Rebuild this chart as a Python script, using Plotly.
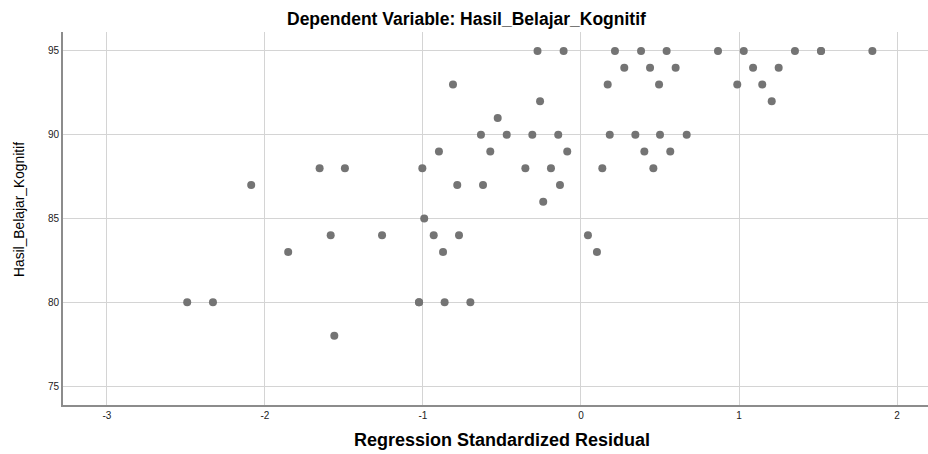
import plotly.graph_objects as go

# Regression standardized residual (x) vs Hasil_Belajar_Kognitif (y)
residual = [
    -0.275, -0.11, 0.215, 0.38, 0.542, 0.867, 1.03, 1.354, 1.519, 1.519, 1.844,
    0.274, 0.437, 0.599, 1.089, 1.251,
    -0.81, 0.169, 0.494, 0.989, 1.147,
    -0.259, 1.207,
    -0.527,
    -0.633, -0.47, -0.308, -0.144, 0.182, 0.344, 0.5, 0.669,
    -0.899, -0.574, -0.087, 0.401, 0.565,
    -1.654, -1.494, -1.004, -0.352, -0.19, 0.135, 0.458,
    -2.087, -0.783, -0.62, -0.133,
    -0.239,
    -0.992,
    -1.584, -1.259, -0.932, -0.772, 0.044,
    -1.853, -0.873, 0.101,
    -2.492, -2.329, -1.025, -1.025, -0.863, -0.7,
    -1.561,
]
score = [
    95, 95, 95, 95, 95, 95, 95, 95, 95, 95, 95,
    94, 94, 94, 94, 94,
    93, 93, 93, 93, 93,
    92, 92,
    91,
    90, 90, 90, 90, 90, 90, 90, 90,
    89, 89, 89, 89, 89,
    88, 88, 88, 88, 88, 88, 88,
    87, 87, 87, 87,
    86,
    85,
    84, 84, 84, 84, 84,
    83, 83, 83,
    80, 80, 80, 80, 80, 80,
    78,
]
x_ticks = [-3, -2, -1, 0, 1, 2]
x_tick_labels = ["-3", "-2", "-1", "0", "1", "2"]
y_ticks = [75, 80, 85, 90, 95]

font = "Liberation Sans, Arial, sans-serif"
W, H = 928, 454
L, R, T, B = 63, 0, 32, 49
pw, ph = W - L - R, H - T - B

fig = go.Figure(go.Scatter(
    x=residual, y=score, mode="markers",
    marker=dict(size=8, color="#747474", line=dict(width=0)),
    hoverinfo="x+y",
))

fig.update_layout(
    width=W, height=H,
    margin=dict(l=L, r=R, t=T, b=B),
    paper_bgcolor="white", plot_bgcolor="white",
    showlegend=False,
    annotations=[
        dict(text="<b>Dependent Variable: Hasil_Belajar_Kognitif</b>",
             xref="paper", yref="paper", x=(466 - L) / pw, y=1 + 13 / ph,
             xanchor="center", yanchor="middle", showarrow=False,
             font=dict(family=font, size=17.5, color="black")),
        dict(text="<b>Regression Standardized Residual</b>",
             xref="paper", yref="paper", x=(502 - L) / pw, y=-35 / ph,
             xanchor="center", yanchor="middle", showarrow=False,
             font=dict(family=font, size=18, color="black")),
        dict(text="Hasil_Belajar_Kognitif", textangle=-90,
             xref="paper", yref="paper", x=-(L - 19) / pw, y=(H - B - 210) / ph,
             xanchor="center", yanchor="middle", showarrow=False,
             font=dict(family=font, size=13.8, color="black")),
    ],
    xaxis=dict(
        range=[-3.278, 2.196], tickvals=x_ticks, ticktext=x_tick_labels,
        automargin=False,
        showgrid=True, gridcolor="#d4d4d4", gridwidth=1, zeroline=False,
        showline=True, linecolor="#8c8c8c", linewidth=2,
        ticks="", tickfont=dict(family=font, size=10, color="#222"),
    ),
    yaxis=dict(
        range=[73.87, 96.13], tickvals=y_ticks, automargin=False,
        showgrid=True, gridcolor="#d4d4d4", gridwidth=1, zeroline=False,
        showline=True, linecolor="#8c8c8c", linewidth=2,
        ticks="", tickfont=dict(family=font, size=10, color="#222"),
    ),
)

fig.write_html(
    "out.html",
    config={"displayModeBar": False},
    post_script="document.body.style.margin='0';document.body.style.overflow='hidden';",
)
